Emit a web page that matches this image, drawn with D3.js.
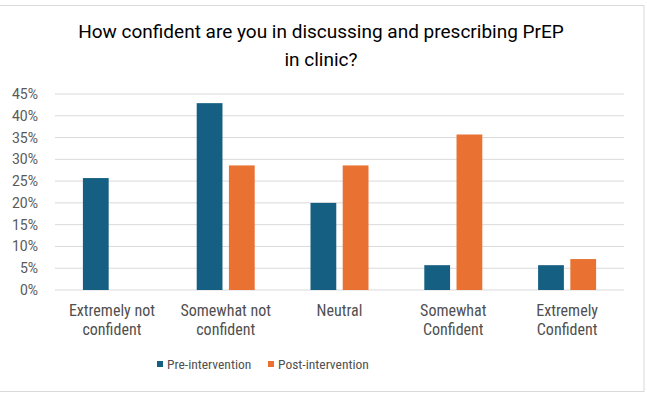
<!DOCTYPE html>
<html><head><meta charset="utf-8">
<script src="https://cdn.jsdelivr.net/npm/d3@7/dist/d3.min.js"></script>
<style>body{margin:0;background:#fff}</style>
</head><body>
<svg id="c" width="647" height="396"></svg>
<script>
const categories = [["Extremely not","confident"],["Somewhat not","confident"],["Neutral"],["Somewhat","Confident"],["Extremely","Confident"]];
const seriesNames = ["Pre-intervention","Post-intervention"];
const preValues = [25.7, 42.9, 20.0, 5.7, 5.7];
const postValues = [0, 28.6, 28.6, 35.7, 7.1];
const yTicks = [0,5,10,15,20,25,30,35,40,45];
const colors = ["#156082","#E97132"];

const svg = d3.select("#c");
const W = 647, H = 396;
const m = {l:55, r:23, t:94, b:106};
svg.append("rect").attr("x",-2).attr("y",5.5).attr("width",646).attr("height",386)
  .attr("fill","#fff").attr("stroke","#d9d9d9").attr("stroke-width",1);

const x0 = d3.scaleBand().domain(d3.range(categories.length)).range([m.l, W-m.r]);
const x1 = d3.scaleBand().domain([0,1]).range([0, 58]).paddingInner(0.2);
const y = d3.scaleLinear().domain([0,45]).range([H-m.b, m.t]);

const font = "'Liberation Sans Narrow','Roboto Condensed',Roboto,sans-serif";
// grid
svg.append("g").selectAll("line").data(yTicks).join("line")
  .attr("x1",m.l).attr("x2",W-m.r).attr("y1",d=>y(d)).attr("y2",d=>y(d))
  .attr("stroke","#d9d9d9").attr("stroke-width",1);
// y axis
const ya = svg.append("g").attr("transform",`translate(${m.l},0)`)
  .call(d3.axisLeft(y).tickValues(yTicks).tickFormat(d=>d+"%").tickSize(0).tickPadding(17));
ya.select(".domain").remove();
ya.selectAll("text").attr("fill","#595959").style("font-family","Roboto,sans-serif").style("font-size","14px");

const data = categories.map((c,i)=>[preValues[i],postValues[i]]);
const g = svg.append("g");
data.forEach((vals,i)=>{
  const cx = x0(i) + x0.bandwidth()/2 - 29;
  g.selectAll(null).data(vals).join("rect")
    .attr("x",(d,j)=>cx + x1(j)).attr("width",x1.bandwidth())
    .attr("y",d=>y(d)).attr("height",d=>y(0)-y(d))
    .attr("fill",(d,j)=>colors[j]);
});
// category labels
categories.forEach((lines,i)=>{
  const t = svg.append("text").attr("x",x0(i)+x0.bandwidth()/2).attr("y",316)
    .attr("text-anchor","middle").attr("fill","#505050")
    .style("font-family",font).style("font-size","16px");
  lines.forEach((l,k)=>t.append("tspan").attr("x",x0(i)+x0.bandwidth()/2).attr("dy",k?19:0).text(l));
});
// title
const tt = svg.append("text").attr("text-anchor","middle").attr("fill","#000")
  .style("font-family","Roboto,sans-serif").style("font-size","19px");
tt.append("tspan").attr("x",321).attr("y",38).text("How confident are you in discussing and prescribing PrEP");
tt.append("tspan").attr("x",321).attr("y",66).text("in clinic?");
// legend
const leg = [{x:157,tx:167},{x:268,tx:278}];
seriesNames.forEach((s,j)=>{
  svg.append("rect").attr("x",leg[j].x).attr("y",361).attr("width",6).attr("height",6).attr("fill",colors[j]);
  svg.append("text").attr("x",leg[j].tx).attr("y",369).attr("fill","#505050")
    .style("font-family",font).style("font-size","13.5px").text(s);
});
</script>
</body></html>
